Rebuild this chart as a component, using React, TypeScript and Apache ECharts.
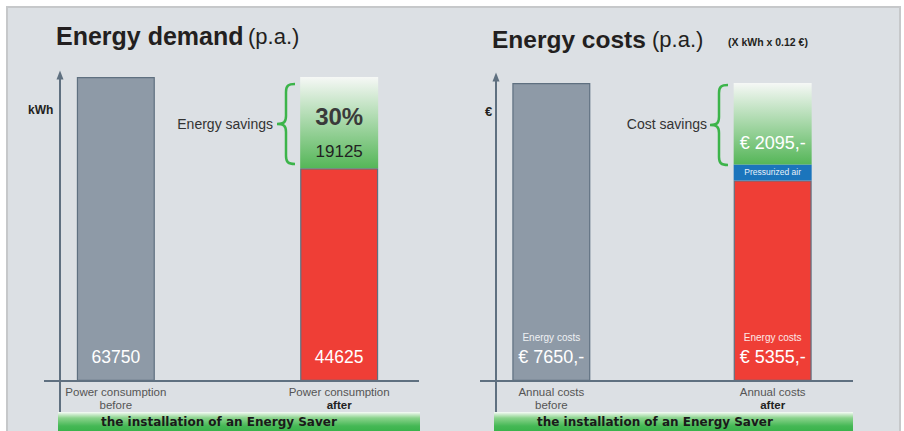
import React, { useEffect, useRef } from 'react';
import * as echarts from 'echarts';

// ---------- data ----------
const demandCategories = ['Power consumption\nbefore', '', 'Power consumption\nafter'];
const demandBefore = [63750, '-', '-'];
const demandAfter = ['-', '-', 44625];
const demandSavings = ['-', '-', 19125];
const demandSavingsPercent = ['', '', '30%'];

const costCategories = ['Annual costs\nbefore', '', 'Annual costs\nafter'];
const costBefore = [7650, '-', '-'];
const costAfter = ['-', '-', 5150];
const costAir = ['-', '-', 410];
const costSavings = ['-', '-', 2090];
const costLabelValues = [7650, 5355, 2095];

const FONT = '"Liberation Sans", Arial, Helvetica, sans-serif';
const AXIS = '#5f7080';

const bracePath =
  'M18,0 C11,0 9,2 9,8 L9,32 C9,38 7,40 0,40 C7,40 9,42 9,48 L9,72 C9,78 11,80 18,80';
echarts.graphic.registerShape('brace', echarts.graphic.extendPath(bracePath, {}));

const greenGrad = {
  type: 'linear', x: 0, y: 0, x2: 0, y2: 1,
  colorStops: [
    { offset: 0, color: '#f6f8f6' },
    { offset: 1, color: '#55b658' },
  ],
};
const bannerGrad = {
  type: 'linear', x: 0, y: 0, x2: 0, y2: 1,
  colorStops: [
    { offset: 0, color: '#f8fcf8' },
    { offset: 0.3, color: '#8ad38c' },
    { offset: 0.7, color: '#45b855' },
    { offset: 1, color: '#37b24a' },
  ],
};

const catLabel = (v: string) => {
  if (!v) return '';
  const [a, b] = v.split('\n');
  return `{a|${a}}\n{${b === 'after' ? 'c' : 'a'}|${b}}`;
};

export default function App() {
  const ref = useRef<HTMLDivElement>(null);
  useEffect(() => {
    if (!ref.current) return;
    const chart = echarts.init(ref.current, null, { renderer: 'svg' });
    const xAxisCommon = {
      type: 'category',
      axisLine: { show: false },
      axisTick: { show: false },
      axisLabel: {
        interval: 0,
        margin: 4,
        formatter: catLabel,
        rich: {
          a: { fontSize: 11.5, color: '#555', lineHeight: 13.5, fontFamily: FONT },
          c: { fontSize: 11.5, color: '#222', fontWeight: 'bold', lineHeight: 13.5, fontFamily: FONT },
        },
      },
    };
    const yAxisCommon = {
      type: 'value',
      min: 0,
      axisLine: {
        show: true,
        symbol: ['none', 'triangle'],
        symbolSize: [7, 9],
        lineStyle: { color: AXIS, width: 2 },
      },
      axisTick: { show: false },
      axisLabel: { show: false },
      splitLine: { show: false },
    };
    const barBorder = { borderColor: AXIS, borderWidth: 1.2 };
    const option = {
      animation: false,
      backgroundColor: '#ffffff',
      grid: [
        { left: 60, top: 75, width: 335, bottom: 50 },
        { left: 496, top: 77, width: 332, bottom: 50 },
      ],
      xAxis: [
        { ...xAxisCommon, gridIndex: 0, data: demandCategories },
        { ...xAxisCommon, gridIndex: 1, data: costCategories },
      ],
      yAxis: [
        { ...yAxisCommon, gridIndex: 0, max: 64169 },
        { ...yAxisCommon, gridIndex: 1, max: 7804 },
      ],
      series: [
        {
          name: 'Power consumption before', type: 'bar', stack: 'd', barWidth: 78,
          xAxisIndex: 0, yAxisIndex: 0, data: demandBefore,
          itemStyle: { color: '#8e9aa7', ...barBorder },
          label: {
            show: true, position: 'insideBottom', distance: 14, color: '#fff',
            fontSize: 17.5, lineHeight: 20, fontFamily: FONT,
            formatter: (p: any) => String(p.value),
          },
        },
        {
          name: 'Power consumption after', type: 'bar', stack: 'd', barWidth: 78,
          xAxisIndex: 0, yAxisIndex: 0, data: demandAfter,
          itemStyle: { color: '#ef3e36', ...barBorder },
          label: {
            show: true, position: 'insideBottom', distance: 14, color: '#fff',
            fontSize: 17.5, lineHeight: 20, fontFamily: FONT,
            formatter: (p: any) => String(p.value),
          },
        },
        {
          name: 'Energy savings', type: 'bar', stack: 'd', barWidth: 78,
          xAxisIndex: 0, yAxisIndex: 0, data: demandSavings,
          itemStyle: { color: greenGrad },
          label: {
            show: true, position: 'insideBottom', distance: 8,
            formatter: (p: any) => `{p|${demandSavingsPercent[p.dataIndex]}}\n{v|${p.value}}`,
            rich: {
              p: { fontSize: 24, fontWeight: 'bold', color: '#3a3a3a', lineHeight: 52, fontFamily: FONT },
              v: { fontSize: 17, color: '#222', lineHeight: 18, fontFamily: FONT },
            },
          },
        },
        {
          name: 'Annual costs before', type: 'bar', stack: 'c', barWidth: 78,
          xAxisIndex: 1, yAxisIndex: 1, data: costBefore,
          itemStyle: { color: '#8e9aa7', ...barBorder },
          label: {
            show: true, position: 'insideBottom', distance: 14,
            formatter: () => `{s|Energy costs}\n{v|€ ${costLabelValues[0]},-}`,
            rich: {
              s: { fontSize: 10, color: '#eef1f4', lineHeight: 20, fontFamily: FONT },
              v: { fontSize: 18, color: '#fff', lineHeight: 20, fontFamily: FONT },
            },
          },
        },
        {
          name: 'Annual costs after', type: 'bar', stack: 'c', barWidth: 78,
          xAxisIndex: 1, yAxisIndex: 1, data: costAfter,
          itemStyle: { color: '#ef3e36', ...barBorder },
          label: {
            show: true, position: 'insideBottom', distance: 14,
            formatter: () => `{s|Energy costs}\n{v|€ ${costLabelValues[1]},-}`,
            rich: {
              s: { fontSize: 10, color: '#fde8e7', lineHeight: 20, fontFamily: FONT },
              v: { fontSize: 18, color: '#fff', lineHeight: 20, fontFamily: FONT },
            },
          },
        },
        {
          name: 'Pressurized air', type: 'bar', stack: 'c', barWidth: 78,
          xAxisIndex: 1, yAxisIndex: 1, data: costAir,
          itemStyle: { color: '#1b75bc' },
          label: {
            show: true, position: 'inside', color: '#e8f1fa', fontSize: 8.5, fontFamily: FONT,
            formatter: 'Pressurized air',
          },
        },
        {
          name: 'Cost savings', type: 'bar', stack: 'c', barWidth: 78,
          xAxisIndex: 1, yAxisIndex: 1, data: costSavings,
          itemStyle: { color: greenGrad },
          label: {
            show: true, position: 'insideBottom', distance: 11, color: '#fff',
            fontSize: 18, lineHeight: 20, fontFamily: FONT,
            formatter: () => `€ ${costLabelValues[2]},-`,
          },
        },
      ],
      graphic: [
        {
          type: 'rect', z: -100, silent: true,
          shape: { x: 7, y: 7, width: 893, height: 440 },
          style: { fill: '#dce0e4', stroke: '#c6c8ca', lineWidth: 2 },
        },
        // titles
        { type: 'text', x: 56, y: 36, z: 100, style: { text: 'Energy demand', font: `bold 25px ${FONT}`, fill: '#231f20', verticalAlign: 'middle' } },
        { type: 'text', x: 248, y: 36, z: 100, style: { text: '(p.a.)', font: `22px ${FONT}`, fill: '#231f20', verticalAlign: 'middle' } },
        { type: 'text', x: 492, y: 39, z: 100, style: { text: 'Energy costs', font: `bold 24.5px ${FONT}`, fill: '#231f20', verticalAlign: 'middle' } },
        { type: 'text', x: 652, y: 39, z: 100, style: { text: '(p.a.)', font: `22px ${FONT}`, fill: '#231f20', verticalAlign: 'middle' } },
        { type: 'text', x: 728, y: 42, z: 100, style: { text: '(X kWh x 0.12 €)', font: `bold 10.5px ${FONT}`, fill: '#231f20', verticalAlign: 'middle' } },
        // axis units
        { type: 'text', x: 28, y: 110, z: 100, style: { text: 'kWh', font: `bold 12px ${FONT}`, fill: '#231f20', verticalAlign: 'middle' } },
        { type: 'text', x: 485, y: 111, z: 100, style: { text: '€', font: `bold 13px ${FONT}`, fill: '#231f20', verticalAlign: 'middle' } },
        // baselines and axis extensions
        { type: 'line', z: 100, shape: { x1: 44, y1: 381, x2: 419, y2: 381 }, style: { stroke: AXIS, lineWidth: 2 } },
        { type: 'line', z: 100, shape: { x1: 60, y1: 381, x2: 60, y2: 412 }, style: { stroke: AXIS, lineWidth: 2 } },
        { type: 'line', z: 100, shape: { x1: 480, y1: 381, x2: 853, y2: 381 }, style: { stroke: AXIS, lineWidth: 2 } },
        { type: 'line', z: 100, shape: { x1: 496, y1: 381, x2: 496, y2: 412 }, style: { stroke: AXIS, lineWidth: 2 } },
        // braces and annotations
        { type: 'brace', x: 277, y: 84, z: 100, style: { stroke: '#3cb44a', fill: 'none', lineWidth: 2.5 } },
        { type: 'brace', x: 710, y: 85, z: 100, style: { stroke: '#3cb44a', fill: 'none', lineWidth: 2.5 } },
        { type: 'text', x: 273, y: 124, z: 100, style: { text: 'Energy savings', font: `14px ${FONT}`, fill: '#333', align: 'right', verticalAlign: 'middle' } },
        { type: 'text', x: 707, y: 124, z: 100, style: { text: 'Cost savings', font: `14px ${FONT}`, fill: '#333', align: 'right', verticalAlign: 'middle' } },
        // banners
        { type: 'rect', z: 100, shape: { x: 58, y: 412, width: 362, height: 20 }, style: { fill: bannerGrad } },
        { type: 'rect', z: 100, shape: { x: 494, y: 412, width: 359, height: 20 }, style: { fill: bannerGrad } },
        { type: 'text', x: 101, y: 422, z: 101, style: { text: 'the installation of an Energy Saver', font: `bold 12px "DejaVu Sans", sans-serif`, fill: '#1a1a1a', verticalAlign: 'middle' } },
        { type: 'text', x: 537, y: 422, z: 101, style: { text: 'the installation of an Energy Saver', font: `bold 12px "DejaVu Sans", sans-serif`, fill: '#1a1a1a', verticalAlign: 'middle' } },
      ],
    };
    chart.setOption(option as any);
    return () => chart.dispose();
  }, []);
  return (
    <div
      ref={ref}
      style={{ position: 'fixed', left: 0, top: 0, width: 904, height: 431 }}
    />
  );
}
